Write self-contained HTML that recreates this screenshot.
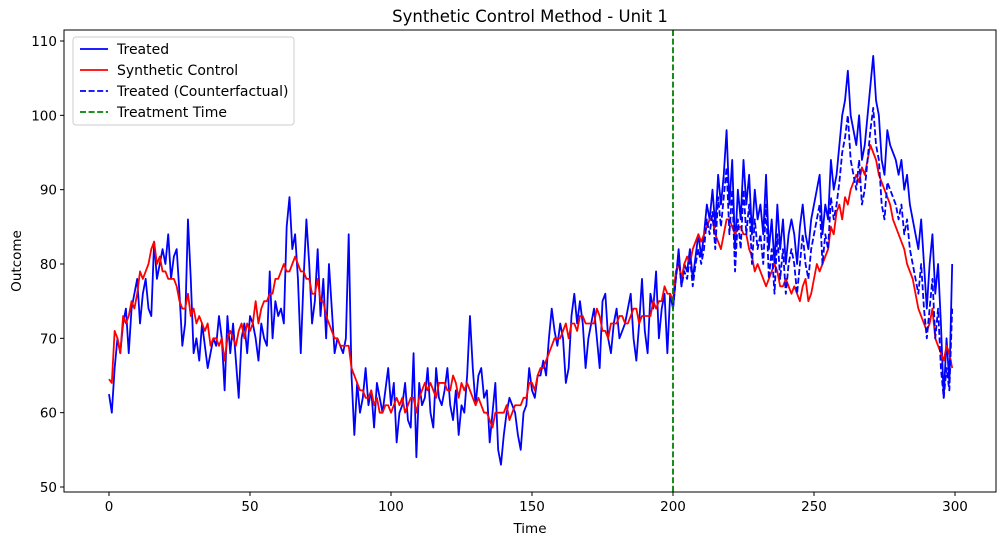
<!DOCTYPE html>
<html><head><meta charset="utf-8"><style>
body{margin:0;background:#fff;}
svg{display:block;font-family:"DejaVu Sans","Liberation Sans",sans-serif;}
</style></head><body>
<svg id="chart" width="1005" height="545" viewBox="0 0 1005 545"></svg>
<script>
const treated=[62.5,60,66,70,68,72,74,68,74,76,78,72,76,78,74,73,83,78,80,82,80,84,78,81,82,76,69,72,86,78,68,70,67,72,69,66,68,70,69,73,70,63,73,68,72,67,62,70,72,68,73,72,70,67,72,70,69,79,70,75,73,74,72,85,89,82,84,78,68,78,86,80,72,75,82,73,78,70,80,74,68,70,69,68,70,84,65,57,64,60,62,66,61,63,58,64,62,60,63,66,61,64,56,60,61,64,59,58,68,54,64,61,62,66,60,58,66,62,61,63,66,61,59,63,57,61,60,65,73,66,61,65,66,62,63,56,60,64,55,53,57,60,62,61,60,57,55,60,61,66,63,62,65,65,67,65,70,74,71,69,72,70,64,66,73,76,72,75,72,66,70,72,74,70,66,75,76,70,68,72,74,70,71,72,74,76,70,67,72,78,71,68,76,74,79,70,74,76,68,76,74,78,82,77,80,79,82,78,81,84,81,84,88,86,90,85,92,88,92,98,88,94,82,90,86,94,88,92,84,90,86,88,84,92,82,86,80,88,82,86,80,84,86,84,80,85,88,84,82,86,88,90,92,84,88,86,94,90,92,96,100,102,106,100,98,96,100,94,96,100,104,108,102,100,94,92,98,96,95,94,92,94,90,92,88,86,84,82,86,80,74,80,84,76,80,72,62,70,64,80];
const synthetic=[64.5,64,71,70,68,73,72,73,75,74,76,79,78,79,80,82,83,80,81,79,79,78,78,78,77,75,74,74,76,73,74,72,73,72,71,72,69,70,70,69,70,67,70,71,70,69,71,72,70,72,71,72,75,72,74,75,75,76,76,78,78,79,80,79,79,80,81,80,79,79,78,78,76,76,78,75,75,73,72,71,70,70,69,69,69,69,66,65,64,63,63,62,62,63,61,62,60,60,61,61,60,61,62,61,62,60,61,62,62,60,62,63,64,63,64,63,62,64,64,64,63,63,65,64,62,64,63,64,63,62,61,62,61,60,60,59,58,60,60,60,60,61,59,60,61,61,61,62,62,64,64,63,65,66,66,67,68,69,70,70,70,71,72,70,72,72,71,73,73,72,72,72,72,74,73,71,71,70,72,72,72,73,73,72,72,73,74,74,72,73,73,73,73,75,74,75,75,77,76,76,75,79,80,78,80,81,80,82,83,84,83,84,85,86,86,84,83,82,84,86,86,85,84,85,85,84,84,82,81,79,80,79,78,77,78,79,80,79,77,77,78,77,76,77,76,75,77,78,75,76,78,80,79,80,81,82,85,84,87,88,86,89,88,90,91,92,91,93,92,94,96,95,94,92,91,90,89,88,86,85,84,83,82,80,79,78,76,74,73,72,71,72,74,70,69,68,67,69,68,66];
const counterfactualStart=200;
const counterfactual=[74,78,81,77,79,78,81,77,80,82,80,82,86,84,87,82,89,85,89,93,84,90,79,86,82,90,84,88,80,86,82,84,80,88,78,82,76,84,78,82,76,80,82,80,76,80,84,80,78,82,84,86,88,80,84,82,89,86,88,91,95,97,100,94,92,90,94,88,90,94,98,101,96,94,88,86,91,90,89,88,86,88,84,86,82,80,78,76,80,74,70,74,78,70,74,66,62,66,63,74];
const treatmentTime=200;
const xTicks=[0,50,100,150,200,250,300];
const yTicks=[50,60,70,80,90,100,110];

const L=64,R=996,T=30,B=492;
const X=v=>109+(v-0)*(955-109)/300;
const Y=v=>487-(v-50)*(487-41)/60;
const svg=document.getElementById('chart');
const NS='http://www.w3.org/2000/svg';
function mk(tag,attrs,parent){const e=document.createElementNS(NS,tag);for(const k in attrs)e.setAttribute(k,attrs[k]);(parent||svg).appendChild(e);return e;}

const title=mk('text',{x:530,y:22,'text-anchor':'middle','font-size':16.5});
title.textContent='Synthetic Control Method - Unit 1';



function line(arr,start,color,dash,name){
  const pts=arr.map((v,i)=>X(start+i).toFixed(2)+','+Y(v).toFixed(2)).join(' ');
  const p=mk('polyline',{points:pts,fill:'none',stroke:color,'stroke-width':1.8,'stroke-linejoin':'round'});
  if(dash)p.setAttribute('stroke-dasharray',dash);
  
  
}
line(treated,0,'#0000ff',null,'treated-line');
line(synthetic,0,'#ff0000',null,'synthetic-control-line');
line(counterfactual,counterfactualStart,'#0000ff','6,2.6','counterfactual-line');
const vl=mk('line',{x1:X(treatmentTime),x2:X(treatmentTime),y1:T,y2:B,stroke:'#008000','stroke-width':1.8,'stroke-dasharray':'6,2.6'});



const frame=mk('rect',{x:L,y:T,width:R-L,height:B-T,fill:'none',stroke:'#000','stroke-width':1});



xTicks.forEach(t=>{
  mk('line',{x1:X(t),x2:X(t),y1:B,y2:B+4,stroke:'#000'});
  const tx=mk('text',{x:X(t),y:B+19,'text-anchor':'middle','font-size':13.5});
  tx.textContent=t;
  
  
});
yTicks.forEach(t=>{
  mk('line',{x1:L-4,x2:L,y1:Y(t),y2:Y(t),stroke:'#000'});
  const tx=mk('text',{x:L-7,y:Y(t)+5,'text-anchor':'end','font-size':13.5});
  tx.textContent=t;
  
  
});
const xt=mk('text',{x:530,y:533,'text-anchor':'middle','font-size':13.5});
xt.textContent='Time';


const yt=mk('text',{x:21,y:261,'text-anchor':'middle','font-size':13.5,transform:'rotate(-90 21 261)'});
yt.textContent='Outcome';



const lg=mk('g',{});


mk('rect',{x:73,y:37,width:221,height:88,rx:3,fill:'#fff','fill-opacity':0.8,stroke:'#ccc'},lg);
const entries=[['Treated','#0000ff',null],['Synthetic Control','#ff0000',null],['Treated (Counterfactual)','#0000ff','6,2.6'],['Treatment Time','#008000','6,2.6']];
entries.forEach((e,i)=>{
  const y=49+i*21;
  const ln=mk('line',{x1:80,x2:108,y1:y,y2:y,stroke:e[1],'stroke-width':1.8},lg);
  if(e[2])ln.setAttribute('stroke-dasharray',e[2]);
  const tx=mk('text',{x:117,y:y+5,'font-size':14},lg);
  tx.textContent=e[0];
  
  
});
</script>
</body></html>
